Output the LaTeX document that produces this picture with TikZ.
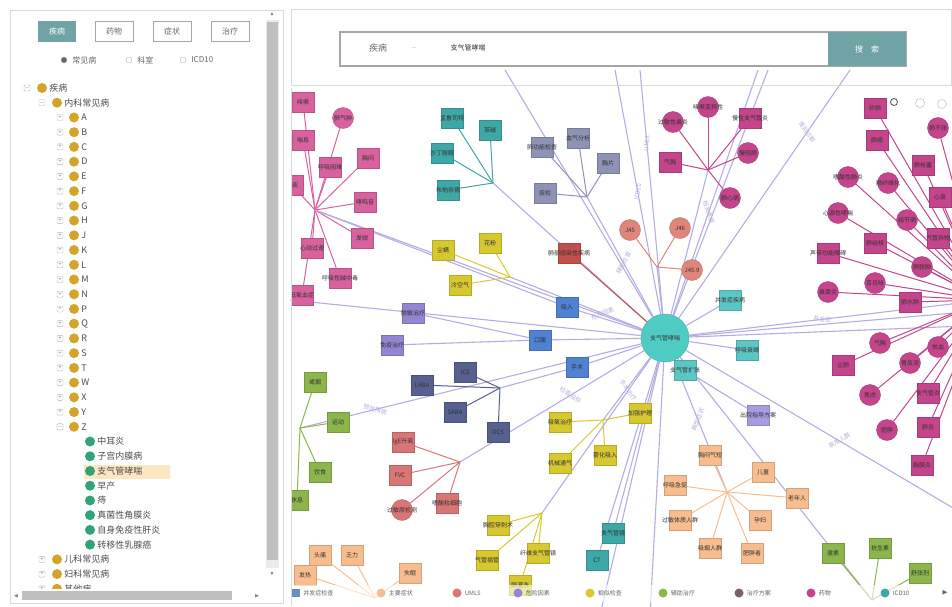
\documentclass[tikz,border=0pt]{standalone}
\usepackage{amssymb}
\usepackage{fontspec}
\setmainfont{Noto Sans CJK SC}
\usetikzlibrary{positioning}
\pgfdeclarelayer{bg}
\pgfsetlayers{bg,main}

\newlength{\du}
\setlength{\du}{1pt}

\definecolor{btnteal}{HTML}{6FA3A6}
\definecolor{gold}{HTML}{D4A32A}
\definecolor{leafgreen}{HTML}{2FA474}
\definecolor{hilite}{HTML}{FCE6C4}
\definecolor{spoke}{HTML}{B4ACE2}
\definecolor{ctr}{HTML}{4ECBC2}
\definecolor{pink}{HTML}{D8629E}
\definecolor{magenta}{HTML}{C4458C}
\definecolor{teal}{HTML}{3EA8A6}
\definecolor{lteal}{HTML}{5CC6C4}
\definecolor{slate}{HTML}{8E92B4}
\definecolor{yellow}{HTML}{D8C830}
\definecolor{brick}{HTML}{C0504D}
\definecolor{salmon}{HTML}{E0857C}
\definecolor{blue}{HTML}{4F82D2}
\definecolor{navy}{HTML}{56618F}
\definecolor{purple}{HTML}{9484D2}
\definecolor{green}{HTML}{8CB54C}
\definecolor{rose}{HTML}{D87676}
\definecolor{peach}{HTML}{F7BD8E}
\definecolor{lav}{HTML}{A99BE2}
\definecolor{mauve}{HTML}{7A6072}
\definecolor{steel}{HTML}{6A8FC0}

\tikzset{
  panel/.style={draw=black!15, line width=0.8\du},
  btn/.style={draw=black!35, minimum width=38\du, minimum height=20\du, inner sep=0, font=\fontsize{8}{8}\selectfont, text=black!60},
  btnon/.style={fill=btnteal, minimum width=38\du, minimum height=21\du, inner sep=0, font=\fontsize{8}{8}\selectfont, text=white},
  rdo/.style={circle, draw=black!30, fill=#1, minimum size=6\du, inner sep=0},
  rtxt/.style={inner sep=1\du, font=\fontsize{8}{8}\selectfont, text=black!60},
  tpm/.style={draw=black!30, rounded corners=1\du, minimum size=6\du, inner sep=0, font=\fontsize{6}{6}\selectfont, text=black!50},
  tdot/.style={circle, fill=#1, minimum size=10\du, inner sep=0},
  ttxt/.style={inner sep=1\du, font=\fontsize{9}{9}\selectfont, text=black!70},
  gsq/.style={rectangle, fill=#1, draw=#1!85!black, minimum width=22\du, minimum height=20\du, inner sep=0},
  gci/.style={circle, fill=#1, draw=#1!85!black, minimum size=21\du, inner sep=0},
  spk/.style={draw=#1, line width=1\du},
  edg/.style={draw=spoke, line width=1.1\du},
  elbl/.style={font=\fontsize{6}{6}\selectfont, text=spoke, sloped, inner sep=1\du},
  lgd/.style={inner sep=1\du, font=\fontsize{6}{6}\selectfont, text=black!60, anchor=west},
  every label/.style={inner sep=0, font=\fontsize{6}{6}\selectfont, text=black!80}
}

\begin{document}
\begin{tikzpicture}
\pgftransformxscale{1.000000}
\pgftransformyscale{-1.000000}
\useasboundingbox (0\du,0\du) rectangle (952\du,606\du);
% panels
\draw[panel] (10\du,10\du) rectangle (283\du,603\du);
\draw[panel] (291\du,9\du) rectangle (951\du,85\du);
\draw[panel] (291\du,88\du) -- (291\du,606\du);
% buttons
\node[btnon] (bdis) at (57\du,31\du) {疾病};
\node[btn] (bdrug) at (114\du,31\du) {药物};
\node[btn] (bsym) at (172\du,31\du) {症状};
\node[btn] (btre) at (230\du,31\du) {治疗};
\node[rdo=black!60] (r1) at (64\du,60\du) {};
\node[rtxt, right=4\du of r1] (r1t) {常见病};
\node[rdo=white] (r2) at (129\du,60\du) {};
\node[rtxt, right=4\du of r2] (r2t) {科室};
\node[rdo=white] (r3) at (183\du,60\du) {};
\node[rtxt, right=4\du of r3] (r3t) {ICD10};
% tree
\fill[hilite] (84\du,465\du) rectangle (170\du,479\du);
\node[tpm] (tr0b) at (27\du,88\du) {$-$};
\node[tdot=gold] (tr0) at (42\du,88\du) {};
\node[ttxt, right=1\du of tr0] (tr0t) {疾病};
\node[tpm] (tr1b) at (42\du,102.7\du) {$-$};
\node[tdot=gold] (tr1) at (57\du,102.7\du) {};
\node[ttxt, right=1\du of tr1] (tr1t) {内科常见病};
\foreach \l [count=\i from 2] in {A,B,C,D,E,F,G,H,J,K,L,M,N,P,Q,R,S,T,W,X,Y,Z}{
  \pgfmathsetmacro\ty{88+14.73*\i}
  \node[tpm] (tl\i b) at (60\du,\ty\du) {+};
  \node[tdot=gold] (tl\i) at (74\du,\ty\du) {};
  \node[ttxt, right=1\du of tl\i] (tl\i t) {\l};
}
\node[tpm, fill=white] at (tl23b) {$-$};
\foreach \t [count=\i from 24] in {中耳炎,子宫内膜病,支气管哮喘,早产,痔,真菌性角膜炎,自身免疫性肝炎,转移性乳腺癌}{
  \pgfmathsetmacro\ty{88+14.73*\i}
  \node[tdot=leafgreen] (tz\i) at (90\du,\ty\du) {};
  \node[ttxt, right=1\du of tz\i] (tz\i t) {\t};
}
\foreach \t [count=\i from 32] in {儿科常见病,妇科常见病,其他病}{
  \pgfmathsetmacro\ty{88+14.73*\i}
  \node[tpm] (tk\i b) at (42\du,\ty\du) {+};
  \node[tdot=gold] (tk\i) at (57\du,\ty\du) {};
  \node[ttxt, right=1\du of tk\i] (tk\i t) {\t};
}
% scrollbars
\fill[white] (12\du,589\du) rectangle (281\du,602\du);
\fill[black!8] (266\du,20\du) rectangle (279\du,568\du);
\fill[black!25] (267\du,22\du) rectangle (278\du,560\du);
\fill[black!25] (22\du,591\du) rectangle (232\du,600\du);
\node[font=\fontsize{5}{5}\selectfont, text=black!50] (sup) at (272\du,14\du) {$\blacktriangle$};
\node[font=\fontsize{5}{5}\selectfont, text=black!50] (sdn) at (272\du,574\du) {$\blacktriangledown$};
\node[font=\fontsize{5}{5}\selectfont, text=black!50] (slt) at (16\du,596\du) {$\blacktriangleleft$};
\node[font=\fontsize{5}{5}\selectfont, text=black!50] (srt) at (257\du,596\du) {$\blacktriangleright$};
% search bar
\draw[black!35, fill=white, line width=1.2\du] (340\du,32\du) rectangle (906\du,66\du);
\fill[btnteal] (828\du,32\du) rectangle (906\du,66\du);
\node[font=\fontsize{9}{9}\selectfont, text=black!60] (skind) at (378\du,48\du) {疾病};
\node[font=\fontsize{6}{6}\selectfont, text=black!40] (sarr) at (414\du,48\du) {$-$};
\node[font=\fontsize{7}{7}\selectfont, text=black!80, anchor=west] (sq) at (447\du,48\du) {支气管哮喘};
\node[font=\fontsize{8}{8}\selectfont, text=white] (sgo) at (867\du,49\du) {搜\quad 索};

% graph
\begin{scope}
\clip (292\du,89\du) rectangle (952\du,606\du);
\node[circle, fill=ctr, draw=ctr!85!black, minimum size=48\du, inner sep=0, label=center:{支气管哮喘}] (c) at (665\du,338\du) {};
\coordinate (hpk) at (315\du,210\du);
\coordinate (htl) at (493\du,183\du);
\coordinate (hsl) at (587\du,197\du);
\coordinate (hyl) at (510\du,277\du);
\coordinate (hsm) at (657\du,267\du);
\coordinate (hmg) at (708\du,170\du);
\coordinate (hrm) at (985\du,300\du);
\coordinate (hnv) at (500\du,388\du);
\coordinate (hgr) at (300\du,428\du);
\coordinate (hrs) at (460\du,462\du);
\coordinate (hy2) at (603\du,420\du);
\coordinate (hy3) at (542\du,513\du);
\coordinate (hpc) at (727\du,492\du);
\coordinate (hpc2) at (375\du,598\du);
\coordinate (hgr2) at (872\du,600\du);
\coordinate (e1) at (505\du,70\du);
\coordinate (e2) at (615\du,70\du);
\coordinate (e3) at (640\du,70\du);
\coordinate (e4) at (758\du,70\du);
\coordinate (e5) at (768\du,70\du);
\coordinate (e6) at (850\du,70\du);
\coordinate (e7) at (965\du,312\du);
\coordinate (e8) at (965\du,326\du);
\coordinate (e9) at (965\du,515\du);
\coordinate (e10) at (650\du,615\du);
\coordinate (e11) at (600\du,615\du);
\coordinate (e12) at (290\du,300\du);
% spokes from the centre
\begin{pgfonlayer}{bg}
\foreach \h in {hpk,htl,hsl,hyl,hsm,hmg,hrm,hgr,hrs,hy2,hy3,hpc,hgr2,e1,e2,e3,e4,e5,e6,e7,e8,e9,e10,e11,e12}{
  \draw[edg] (c) -- (\h);
}
\path (c) -- (hsl) node[elbl, pos=.45] {辅助检查};
\path (c) -- (e4) node[elbl, pos=.42] {相关疾病};
\path (c) -- (e6) node[elbl, pos=.75] {鉴别诊断};
\path (c) -- (hrm) node[elbl, pos=.45] {并发症};
\path (c) -- (e9) node[elbl, pos=.55] {高发人群};
\path (c) -- (hpc) node[elbl, pos=.45] {典型症状};
\path (c) -- (hy3) node[elbl, pos=.21] {手术治疗};
\path (c) -- (hyl) node[elbl, pos=.3] {危险因素};
\path (c) -- (hgr) node[elbl, pos=.78] {预防措施};
\path (c) -- (hrs) node[elbl, pos=.4] {检查指标};
\path (c) -- (e2) node[elbl, pos=.5] {ICD10};
\path (c) -- (e3) node[elbl, pos=.7] {UMLS};
\end{pgfonlayer}
% pink cluster
\foreach \x/\y/\t [count=\i] in {303/102/咳嗽,303/140/喘息,330/167/呼吸困难,368/158/胸闷,365/202/哮鸣音,362/238/发绀,312/248/心动过速,340/278/呼吸性碱中毒,302/295/低氧血症,292/185/咯痰}{
  \node[gsq=pink, label=center:{\t}] (pk\i) at (\x\du,\y\du) {};
  \begin{pgfonlayer}{bg}\draw[spk=pink] (hpk) -- (pk\i);\end{pgfonlayer}
}
\node[gci=pink, label=center:{肺气肿}] (pkc) at (343\du,118\du) {};
\begin{pgfonlayer}{bg}\draw[spk=pink] (hpk) -- (pkc);\end{pgfonlayer}
% teal cluster
\foreach \x/\y/\t [count=\i] in {452/118/孟鲁司特,490/130/茶碱,442/153/沙丁胺醇,448/190/布地奈德}{
  \node[gsq=teal, label=center:{\t}] (tl\i) at (\x\du,\y\du) {};
  \begin{pgfonlayer}{bg}\draw[spk=teal] (htl) -- (tl\i);\end{pgfonlayer}
}
% slate cluster
\foreach \x/\y/\t [count=\i] in {542/147/肺功能检查,578/138/血气分析,608/163/胸片,545/193/痰检}{
  \node[gsq=slate, label=center:{\t}] (sl\i) at (\x\du,\y\du) {};
  \begin{pgfonlayer}{bg}\draw[spk=slate] (hsl) -- (sl\i);\end{pgfonlayer}
}
% yellow cluster
\foreach \x/\y/\t [count=\i] in {443/250/尘螨,490/243/花粉,460/285/冷空气}{
  \node[gsq=yellow, label=center:{\t}] (yl\i) at (\x\du,\y\du) {};
  \begin{pgfonlayer}{bg}\draw[spk=yellow] (hyl) -- (yl\i);\end{pgfonlayer}
}
\node[gsq=brick, label=center:{肺部感染性疾病}] (rd1) at (569\du,253\du) {};
\begin{pgfonlayer}{bg}\draw[spk=brick] (c) -- (rd1);\end{pgfonlayer}
% salmon cluster
\foreach \x/\y/\t [count=\i] in {630/230/J45,680/228/J46,692/270/J45.9}{
  \node[gci=salmon, label=center:{\t}] (sm\i) at (\x\du,\y\du) {};
  \begin{pgfonlayer}{bg}\draw[spk=salmon] (hsm) -- (sm\i);\end{pgfonlayer}
}
% magenta top cluster
\foreach \x/\y/\t [count=\i] in {708/107/咳嗽变异性,673/122/过敏性鼻炎,748/153/慢阻肺,730/198/肺心病}{
  \node[gci=magenta, label=center:{\t}] (mg\i) at (\x\du,\y\du) {};
  \begin{pgfonlayer}{bg}\draw[spk=magenta] (hmg) -- (mg\i);\end{pgfonlayer}
}
\foreach \x/\y/\t [count=\i] in {750/118/慢性支气管炎,670/162/气胸}{
  \node[gsq=magenta, label=center:{\t}] (mq\i) at (\x\du,\y\du) {};
  \begin{pgfonlayer}{bg}\draw[spk=magenta] (hmg) -- (mq\i);\end{pgfonlayer}
}
% magenta right cluster
\foreach \x/\y/\t [count=\i] in {877/140/肺癌,923/165/肺栓塞,828/253/声带功能障碍,875/243/肺结核,940/197/心衰,938/238/气管异物,910/302/肺水肿,843/365/尘肺,928/393/支气管炎,928/427/肺炎,922/465/胸膜炎,875/108/矽肺}{
  \node[gsq=magenta, label=center:{\t}] (rq\i) at (\x\du,\y\du) {};
  \begin{pgfonlayer}{bg}\draw[spk=magenta] (hrm) -- (rq\i);\end{pgfonlayer}
}
\foreach \x/\y/\t [count=\i] in {938/128/肺不张,848/177/嗜酸性肺炎,888/183/肺纤维化,838/213/心源性哮喘,907/220/结节病,922/267/肺脓肿,875/283/百日咳,828/292/鼻窦炎,880/343/气胸,910/363/胃反流,870/395/焦虑,887/430/肥胖,938/347/贫血}{
  \node[gci=magenta, label=center:{\t}] (rc\i) at (\x\du,\y\du) {};
  \begin{pgfonlayer}{bg}\draw[spk=magenta] (hrm) -- (rc\i);\end{pgfonlayer}
}
% teal near centre
\foreach \x/\y/\t [count=\i] in {730/300/并发症疾病,747/350/呼吸衰竭,685/370/支气管扩张}{
  \node[gsq=lteal, label=center:{\t}] (lt\i) at (\x\du,\y\du) {};
  \begin{pgfonlayer}{bg}\draw[edg] (c) -- (lt\i);\end{pgfonlayer}
}
% blue nodes
\foreach \x/\y/\t [count=\i] in {567/307/吸入,540/340/口服,577/367/手术}{
  \node[gsq=blue, label=center:{\t}] (bl\i) at (\x\du,\y\du) {};
  \begin{pgfonlayer}{bg}\draw[edg] (c) -- (bl\i);\end{pgfonlayer}
}
\begin{pgfonlayer}{bg}\draw[edg] (hpk) -- (bl1);\end{pgfonlayer}
% navy cluster
\foreach \x/\y/\t [count=\i] in {465/372/ICS,422/385/LABA,455/412/SABA,498/432/OCS}{
  \node[gsq=navy, label=center:{\t}] (nv\i) at (\x\du,\y\du) {};
  \begin{pgfonlayer}{bg}\draw[spk=navy] (hnv) -- (nv\i);\end{pgfonlayer}
}
\begin{pgfonlayer}{bg}\draw[edg] (hnv) -- (bl3);\end{pgfonlayer}
% purple nodes
\foreach \x/\y/\t [count=\i] in {413/313/脱敏治疗,392/345/免疫治疗}{
  \node[gsq=purple, label=center:{\t}] (pu\i) at (\x\du,\y\du) {};
  \begin{pgfonlayer}{bg}\draw[edg] (bl2) -- (pu\i);\end{pgfonlayer}
}
% green cluster
\foreach \x/\y/\t [count=\i] in {315/382/戒烟,338/422/运动,320/472/饮食,297/500/休息}{
  \node[gsq=green, label=center:{\t}] (gr\i) at (\x\du,\y\du) {};
  \begin{pgfonlayer}{bg}\draw[spk=green] (hgr) -- (gr\i);\end{pgfonlayer}
}
% rose cluster
\foreach \x/\y/\t [count=\i] in {403/442/IgE升高,400/475/FVC,447/503/嗜酸粒细胞}{
  \node[gsq=rose, label=center:{\t}] (rs\i) at (\x\du,\y\du) {};
  \begin{pgfonlayer}{bg}\draw[spk=rose] (hrs) -- (rs\i);\end{pgfonlayer}
}
\node[gci=rose, label=center:{过敏原检测}] (rs4) at (402\du,510\du) {};
\begin{pgfonlayer}{bg}\draw[spk=rose] (hrs) -- (rs4);\end{pgfonlayer}
% yellow lower clusters
\foreach \x/\y/\t [count=\i] in {560/422/吸氧治疗,560/463/机械通气,605/455/雾化吸入,640/413/加强护理}{
  \node[gsq=yellow, label=center:{\t}] (ya\i) at (\x\du,\y\du) {};
  \begin{pgfonlayer}{bg}\draw[spk=yellow] (hy2) -- (ya\i);\end{pgfonlayer}
}
\foreach \x/\y/\t [count=\i] in {498/525/胸腔穿刺术,487/560/气管插管,538/553/纤维支气管镜,520/585/肺灌洗}{
  \node[gsq=yellow, label=center:{\t}] (yb\i) at (\x\du,\y\du) {};
  \begin{pgfonlayer}{bg}\draw[spk=yellow] (hy3) -- (yb\i);\end{pgfonlayer}
}
% teal lower
\foreach \x/\y/\t [count=\i] in {613/533/支气管镜,597/560/CT}{
  \node[gsq=teal, label=center:{\t}] (tb\i) at (\x\du,\y\du) {};
  \begin{pgfonlayer}{bg}\draw[edg] (c) -- (tb\i);\end{pgfonlayer}
}
\node[gsq=lav, label=center:{出院指导方案}] (lv1) at (758\du,415\du) {};
\begin{pgfonlayer}{bg}\draw[edg] (lt3) -- (lv1);\end{pgfonlayer}
% peach clusters
\foreach \x/\y/\t [count=\i] in {710/455/胸闷气短,675/485/呼吸急促,763/472/儿童,797/498/老年人,680/520/过敏体质人群,760/520/孕妇,710/548/吸烟人群,752/553/肥胖者}{
  \node[gsq=peach, label=center:{\t}] (pc\i) at (\x\du,\y\du) {};
  \begin{pgfonlayer}{bg}\draw[spk=peach] (hpc) -- (pc\i);\end{pgfonlayer}
}
\foreach \x/\y/\t [count=\i] in {320/555/头痛,352/555/乏力,410/573/失眠,305/575/发热}{
  \node[gsq=peach, label=center:{\t}] (pd\i) at (\x\du,\y\du) {};
  \begin{pgfonlayer}{bg}\draw[spk=peach] (hpc2) -- (pd\i);\end{pgfonlayer}
}
% green bottom right
\foreach \x/\y/\t [count=\i] in {833/553/激素,880/548/抗生素,920/573/舒张剂}{
  \node[gsq=green, label=center:{\t}] (gb\i) at (\x\du,\y\du) {};
  \begin{pgfonlayer}{bg}\draw[spk=green] (hgr2) -- (gb\i);\end{pgfonlayer}
}
% toolbar icons
\node[circle, draw=black!70, line width=0.8\du, minimum size=7\du, inner sep=0] (ic1) at (894\du,102\du) {};
\node[circle, draw=black!30, minimum size=9\du, inner sep=0] (ic2) at (920\du,103\du) {};
\node[circle, draw=black!30, minimum size=9\du, inner sep=0] (ic3) at (942\du,104\du) {};
\end{scope}
% legend
\fill[white, opacity=0.6] (292\du,585\du) rectangle (952\du,602\du);
\node[rectangle, fill=steel, minimum size=8\du, inner sep=0] (lg1) at (296\du,593\du) {};
\node[lgd, right=2\du of lg1] (lg1t) {并发症检查};
\foreach \x/\col/\t [count=\i from 2] in {381/peach/主要症状,457/rose/UMLS,518/purple/危险因素,590/yellow/相似检查,663/green/辅助治疗,739/mauve/治疗方案,811/magenta/药物,885/teal/ICD10}{
  \node[circle, fill=\col, minimum size=9\du, inner sep=0] (lg\i) at (\x\du,593\du) {};
  \node[lgd, right=2\du of lg\i] (lg\i t) {\t};
}
\node[font=\fontsize{7}{7}\selectfont, text=navy] (lgarr) at (945\du,593\du) {$\blacktriangleright$};
\end{tikzpicture}
\end{document}
